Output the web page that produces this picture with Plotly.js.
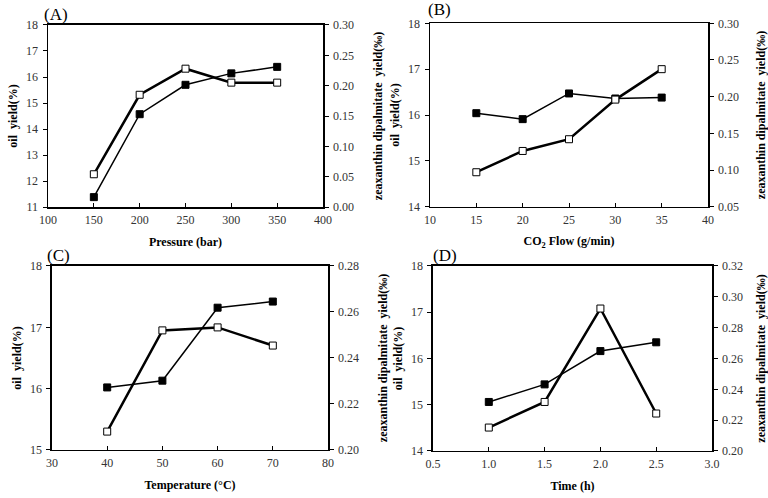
<!DOCTYPE html>
<html>
<head>
<meta charset="utf-8">
<script src="https://cdn.plot.ly/plotly-3.0.1.min.js"></script>
<style>
  html, body { margin: 0; padding: 0; background: #fff; }
  #chart { width: 768px; height: 498px; }
</style>
</head>
<body>
<div id="chart"></div>
<script>
// (A) pressure
var pressure = [150, 200, 250, 300, 350];
var oilA = [11.38, 14.57, 15.70, 16.14, 16.39];
var zeaA = [0.054, 0.185, 0.228, 0.205, 0.205];

// (B) CO2 flow
var flow = [15, 20, 25, 30, 35];
var oilB = [16.04, 15.91, 16.47, 16.36, 16.38];
var zeaB = [0.097, 0.126, 0.142, 0.196, 0.2375];

// (C) temperature
var temp = [40, 50, 60, 70];
var oilC = [16.02, 16.13, 17.32, 17.42];
var zeaC = [0.208, 0.252, 0.2533, 0.2454];

// (D) time
var time = [1.0, 1.5, 2.0, 2.5];
var oilD = [15.06, 15.44, 16.16, 16.35];
var zeaD = [0.2152, 0.2318, 0.2924, 0.2243];

var panels = [
  {x: pressure, oil: oilA, zea: zeaA, label: "(A)", xtitle: "Pressure (bar)",
   xr: [100, 400], xd: 50, xf: "", yr: [11, 18], y2r: [0, 0.30], y2d: 0.05,
   xdom: [0.0625, 0.4206], ydom: [0.5843, 0.9498], lab: [56, 14]},
  {x: flow, oil: oilB, zea: zeaB, label: "(B)", xtitle: "CO<sub>2</sub> Flow (g/min)",
   xr: [10, 40], xd: 5, xf: "", yr: [14, 18], y2r: [0.05, 0.30], y2d: 0.05,
   xdom: [0.5599, 0.9219], ydom: [0.5849, 0.9532], lab: [439, 9]},
  {x: temp, oil: oilC, zea: zeaC, label: "(C)", xtitle: "Temperature (\u00b0C)",
   xr: [30, 80], xd: 10, xf: "", yr: [15, 18], y2r: [0.20, 0.28], y2d: 0.02,
   xdom: [0.0677, 0.4271], ydom: [0.0964, 0.4659], lab: [58, 256]},
  {x: time, oil: oilD, zea: zeaD, label: "(D)", xtitle: "Time (h)",
   xr: [0.5, 3.0], xd: 0.5, xf: ".1f", yr: [14, 18], y2r: [0.20, 0.32], y2d: 0.02,
   xdom: [0.5638, 0.9271], ydom: [0.0944, 0.4659], lab: [445, 256]}
];

var serif = "Liberation Serif, Times New Roman, serif";
var tickFont = {family: serif, size: 12, color: "#333"};
var titleFont = {family: serif, size: 12, color: "#000", weight: "bold"};

var data = [];
var layout = {
  width: 768, height: 498,
  margin: {l: 0, r: 0, t: 0, b: 0},
  paper_bgcolor: "#fff", plot_bgcolor: "#fff",
  showlegend: false,
  annotations: []
};

panels.forEach(function (p, i) {
  var n = i + 1;
  var xa = "x" + n, yl = "y" + (2 * i + 1), yr = "y" + (2 * i + 2);
  var xKey = n === 1 ? "xaxis" : "xaxis" + n;
  var ylKey = (2 * i + 1) === 1 ? "yaxis" : "yaxis" + (2 * i + 1);
  var yrKey = "yaxis" + (2 * i + 2);

  // oil yield - filled squares, thin line
  data.push({
    x: p.x, y: p.oil, xaxis: xa, yaxis: yl, type: "scatter", mode: "lines+markers",
    line: {color: "#000", width: 1.5},
    marker: {symbol: "square", size: 7, color: "#000", line: {color: "#000", width: 1}}
  });
  // zeaxanthin - open squares, thick line
  data.push({
    x: p.x, y: p.zea, xaxis: xa, yaxis: yr, type: "scatter", mode: "lines+markers",
    line: {color: "#000", width: 2.5},
    marker: {symbol: "square", size: 7, color: "#fff", line: {color: "#000", width: 1}}
  });

  layout[xKey] = {
    domain: p.xdom, anchor: yl, range: p.xr, dtick: p.xd, tick0: p.xr[0],
    tickformat: p.xf, showgrid: false, zeroline: false,
    showline: true, linecolor: "#000", linewidth: 1.5, mirror: true,
    ticks: "inside", ticklen: 4, tickcolor: "#000", ticklabelstandoff: 1,
    tickfont: tickFont,
    title: {text: p.xtitle, font: titleFont, standoff: 11}
  };
  layout[ylKey] = {
    domain: p.ydom, anchor: xa, range: p.yr, dtick: 1,
    showgrid: false, zeroline: false,
    showline: true, linecolor: "#000", linewidth: 1.5,
    ticks: "outside", ticklen: 4, tickcolor: "#000", ticklabelstandoff: 2,
    tickfont: tickFont,
    title: {text: "oil\u00a0\u00a0yield(%)", font: titleFont, standoff: 6}
  };
  layout[yrKey] = {
    overlaying: yl, side: "right", anchor: xa, range: p.y2r, dtick: p.y2d,
    tickformat: ".2f", showgrid: false, zeroline: false,
    showline: true, linecolor: "#000", linewidth: 1.5,
    ticks: "outside", ticklen: 4, tickcolor: "#000", ticklabelstandoff: 2,
    tickfont: tickFont,
    title: {text: "zeaxanthin dipalmitate\u00a0\u00a0yield(\u2030)", font: titleFont, standoff: 20}
  };

  layout.annotations.push({
    text: p.label, xref: "paper", yref: "paper",
    x: p.lab[0] / 768, y: 1 - p.lab[1] / 498,
    xanchor: "center", yanchor: "middle", showarrow: false,
    font: {family: serif, size: 17, color: "#000"}
  });
});

Plotly.newPlot("chart", data, layout, {staticPlot: true});
</script>
</body>
</html>
